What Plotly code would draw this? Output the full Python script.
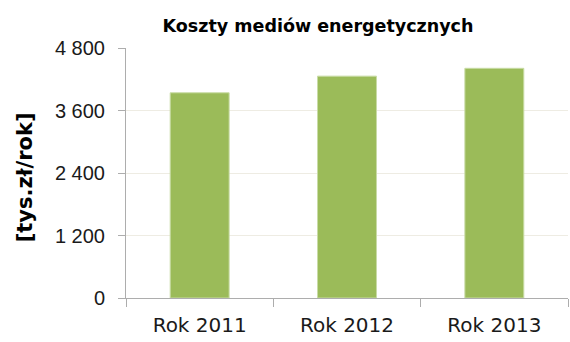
import plotly.graph_objects as go

# Annual energy media costs
categories = ["Rok 2011", "Rok 2012", "Rok 2013"]
costs = [3940, 4260, 4410]
y_tick_values = [0, 1200, 2400, 3600, 4800]
y_tick_labels = ["0", "1 200", "2 400", "3 600", "4 800"]

title_text = "Koszty mediów energetycznych"
y_title_text = "[tys.zł/rok]"

axis_gray = "#ADADAD"
grid_color = "#EEECE3"
bar_green = "#9BBB59"

fig = go.Figure(
    go.Bar(
        x=categories,
        y=costs,
        width=0.4,
        marker=dict(color=bar_green, line=dict(color="#C9DCA6", width=1)),
    )
)

fig.update_layout(
    width=570,
    height=342,
    margin=dict(l=126, r=2, t=48, b=44),
    paper_bgcolor="white",
    plot_bgcolor="white",
    showlegend=False,
    title=dict(
        text=title_text,
        x=318 / 570,
        xref="container",
        xanchor="center",
        y=1 - 26 / 342,
        yref="container",
        yanchor="middle",
        font=dict(family="DejaVu Sans", size=17.5, color="#000000", weight="bold"),
    ),
    bargap=0.6,
)

fig.update_xaxes(
    showline=True,
    linecolor=axis_gray,
    linewidth=1,
    ticks="outside",
    tickson="boundaries",
    ticklen=8,
    tickcolor=axis_gray,
    showgrid=False,
    ticklabelstandoff=9,
    tickfont=dict(family="DejaVu Sans", size=20, color="#1A1A1A"),
)

fig.update_yaxes(
    range=[0, 4800],
    tickvals=y_tick_values,
    ticktext=y_tick_labels,
    showline=True,
    linecolor=axis_gray,
    linewidth=1,
    ticks="outside",
    ticklen=7,
    tickcolor=axis_gray,
    showgrid=True,
    gridcolor=grid_color,
    gridwidth=1,
    zeroline=False,
    ticklabelstandoff=9,
    tickfont=dict(family="Liberation Sans", size=20, color="#1A1A1A"),
)

fig.add_annotation(
    text=y_title_text,
    xref="paper",
    yref="paper",
    x=(25 - 126) / 442.5,
    y=(298.3 - 177.5) / 250,
    xanchor="center",
    yanchor="middle",
    textangle=-90,
    showarrow=False,
    font=dict(family="DejaVu Sans", size=21, color="#000000", weight="bold"),
)

fig.write_html("out.html")
